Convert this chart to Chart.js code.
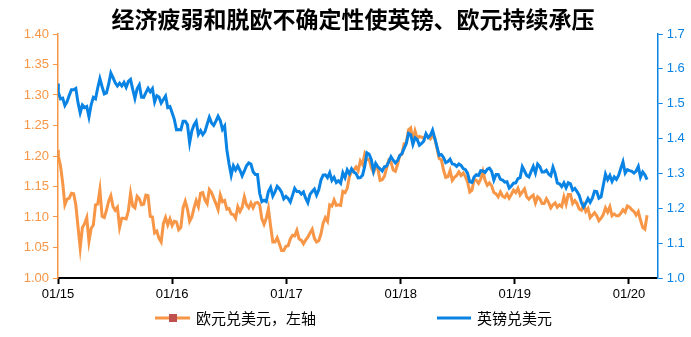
<!DOCTYPE html>
<html>
<head>
<meta charset="utf-8">
<script src="https://cdn.jsdelivr.net/npm/chart.js@4.4.0/dist/chart.umd.min.js"></script>
<style>
  html, body { margin: 0; padding: 0; background: #fff; }
  #wrap { width: 691px; height: 337px; }
</style>
</head>
<body>
<div id="wrap"><canvas id="fx" width="691" height="337"></canvas></div>
<script>
const chartTitle = '经济疲弱和脱欧不确定性使英镑、欧元持续承压';
const seriesNames = ['欧元兑美元，左轴', '英镑兑美元'];

// x axis: days since 2015-01-01, one label per new year
const yearLabels = ['01/15', '01/16', '01/17', '01/18', '01/19', '01/20'];
const yearDays = [0, 365, 731, 1096, 1461, 1826];
const leftTicks = [1.00, 1.05, 1.10, 1.15, 1.20, 1.25, 1.30, 1.35, 1.40];
const rightTicks = [1.0, 1.1, 1.2, 1.3, 1.4, 1.5, 1.6, 1.7];

// first value is 2015-01-01, then weekly Friday closes from 2015-01-02
const eurusd = [
  1.210,
  // 2015
  1.200, 1.184, 1.156, 1.120, 1.129, 1.131, 1.139, 1.138, 1.120, 1.084,
  1.049, 1.083, 1.089, 1.099, 1.060, 1.081, 1.087, 1.120, 1.121, 1.145,
  1.101, 1.099, 1.111, 1.126, 1.135, 1.117, 1.111, 1.116, 1.083, 1.098,
  1.098, 1.097, 1.110, 1.139, 1.118, 1.115, 1.134, 1.130, 1.120, 1.121,
  1.136, 1.135, 1.101, 1.100, 1.074, 1.077, 1.065, 1.059, 1.089, 1.099,
  1.087, 1.097,
  // 2016
  1.086, 1.093, 1.092, 1.079, 1.083, 1.115, 1.126, 1.113, 1.093, 1.100,
  1.115, 1.127, 1.117, 1.139, 1.140, 1.128, 1.122, 1.145, 1.140, 1.131,
  1.122, 1.112, 1.136, 1.125, 1.127, 1.113, 1.114, 1.105, 1.104, 1.098,
  1.117, 1.109, 1.116, 1.133, 1.120, 1.115, 1.123, 1.115, 1.123, 1.124,
  1.120, 1.097, 1.088, 1.098, 1.114, 1.085, 1.059, 1.059, 1.066, 1.056,
  1.045, 1.045, 1.052,
  // 2017
  1.053, 1.064, 1.070, 1.069, 1.078, 1.064, 1.062, 1.056, 1.062, 1.067,
  1.074, 1.080, 1.065, 1.059, 1.061, 1.072, 1.090, 1.099, 1.093, 1.120,
  1.118, 1.128, 1.119, 1.120, 1.119, 1.142, 1.140, 1.147, 1.166, 1.175,
  1.177, 1.182, 1.176, 1.192, 1.186, 1.203, 1.194, 1.195, 1.181, 1.173,
  1.182, 1.179, 1.160, 1.161, 1.167, 1.180, 1.193, 1.190, 1.177, 1.175,
  1.186, 1.201,
  // 2018
  1.203, 1.220, 1.222, 1.243, 1.246, 1.225, 1.241, 1.229, 1.232, 1.231,
  1.229, 1.235, 1.232, 1.228, 1.233, 1.229, 1.213, 1.196, 1.194, 1.177,
  1.165, 1.166, 1.176, 1.160, 1.165, 1.168, 1.174, 1.168, 1.172, 1.166,
  1.157, 1.141, 1.144, 1.162, 1.160, 1.155, 1.162, 1.175, 1.160, 1.152,
  1.156, 1.151, 1.140, 1.138, 1.133, 1.141, 1.134, 1.132, 1.138, 1.131,
  1.137, 1.144,
  // 2019
  1.140, 1.147, 1.136, 1.141, 1.146, 1.133, 1.129, 1.133, 1.136, 1.123,
  1.133, 1.130, 1.122, 1.122, 1.130, 1.124, 1.115, 1.120, 1.123, 1.116,
  1.120, 1.117, 1.133, 1.121, 1.137, 1.137, 1.122, 1.127, 1.122, 1.113,
  1.111, 1.120, 1.109, 1.114, 1.099, 1.103, 1.107, 1.102, 1.094, 1.098,
  1.104, 1.115, 1.108, 1.117, 1.102, 1.105, 1.102, 1.102, 1.106, 1.112,
  1.108, 1.118,
  // 2020
  1.116, 1.112, 1.109, 1.103, 1.109, 1.095, 1.083, 1.080, 1.103
];

const gbpusd = [
  1.558,
  // 2015
  1.533, 1.514, 1.516, 1.495, 1.506, 1.524, 1.540, 1.540, 1.544, 1.503,
  1.474, 1.496, 1.489, 1.492, 1.462, 1.497, 1.518, 1.514, 1.545, 1.572,
  1.549, 1.528, 1.531, 1.556, 1.588, 1.575, 1.560, 1.551, 1.559, 1.551,
  1.561, 1.547, 1.564, 1.570, 1.541, 1.515, 1.543, 1.554, 1.519, 1.518,
  1.532, 1.544, 1.534, 1.543, 1.505, 1.523, 1.519, 1.502, 1.512, 1.522,
  1.489, 1.492,
  // 2016
  1.474, 1.455, 1.425, 1.426, 1.425, 1.450, 1.450, 1.440, 1.388, 1.422,
  1.439, 1.449, 1.412, 1.423, 1.411, 1.420, 1.441, 1.461, 1.445, 1.438,
  1.450, 1.464, 1.452, 1.426, 1.436, 1.368, 1.328, 1.295, 1.322, 1.310,
  1.322, 1.309, 1.293, 1.307, 1.322, 1.330, 1.327, 1.305, 1.297, 1.297,
  1.243, 1.219, 1.223, 1.219, 1.248, 1.260, 1.235, 1.247, 1.263, 1.256,
  1.246, 1.227, 1.234,
  // 2017
  1.228, 1.218, 1.237, 1.257, 1.248, 1.248, 1.241, 1.247, 1.229, 1.216,
  1.240, 1.248, 1.255, 1.238, 1.253, 1.281, 1.295, 1.296, 1.288, 1.302,
  1.280, 1.289, 1.274, 1.279, 1.272, 1.302, 1.288, 1.310, 1.299, 1.313,
  1.304, 1.300, 1.287, 1.288, 1.295, 1.320, 1.359, 1.355, 1.340, 1.307,
  1.329, 1.319, 1.313, 1.307, 1.319, 1.321, 1.334, 1.348, 1.338, 1.330,
  1.337, 1.351,
  // 2018
  1.357, 1.372, 1.386, 1.415, 1.411, 1.383, 1.402, 1.397, 1.381, 1.386,
  1.393, 1.414, 1.403, 1.409, 1.424, 1.401, 1.377, 1.352, 1.354, 1.346,
  1.331, 1.334, 1.341, 1.327, 1.326, 1.320, 1.327, 1.323, 1.314, 1.311,
  1.300, 1.276, 1.274, 1.290, 1.296, 1.294, 1.308, 1.307, 1.303, 1.312,
  1.315, 1.306, 1.281, 1.297, 1.297, 1.283, 1.281, 1.275, 1.276, 1.258,
  1.264, 1.272,
  // 2019
  1.273, 1.285, 1.288, 1.319, 1.307, 1.294, 1.290, 1.305, 1.320, 1.301,
  1.327, 1.320, 1.304, 1.304, 1.309, 1.298, 1.293, 1.318, 1.300, 1.272,
  1.270, 1.262, 1.273, 1.259, 1.273, 1.270, 1.252, 1.257, 1.248, 1.237,
  1.216, 1.204, 1.215, 1.228, 1.217, 1.229, 1.249, 1.248, 1.229, 1.233,
  1.266, 1.298, 1.282, 1.294, 1.277, 1.290, 1.283, 1.294, 1.314, 1.333,
  1.301, 1.311,
  // 2020
  1.308, 1.306, 1.301, 1.307, 1.320, 1.289, 1.304, 1.296, 1.282
];

const ORANGE = '#F79646';
const BLUE = '#0A84E4';
const MARKER = '#C0504D';
const FONT = '"Liberation Sans", Arial, sans-serif';
const CJK = '"Noto Sans CJK SC", sans-serif';

// day offset of each sample
const dayOf = i => (i === 0 ? 0 : 1 + 7 * (i - 1));
const toPoints = arr => arr.map((v, i) => ({ x: dayOf(i), y: v }));

const titleAndLegend = {
  id: 'titleAndLegend',
  afterDraw(chart) {
    const c = chart.ctx;
    c.save();
    c.fillStyle = '#000';
    c.font = 'bold 23px ' + CJK;
    c.textAlign = 'center';
    c.textBaseline = 'middle';
    c.fillText(chartTitle, 353, 19);

    const ly = 318;
    c.font = '15px ' + CJK;
    c.textAlign = 'left';
    c.lineWidth = 3;
    // euro entry: line with square marker
    c.strokeStyle = ORANGE;
    c.beginPath(); c.moveTo(155, ly); c.lineTo(190, ly); c.stroke();
    c.fillStyle = MARKER;
    c.fillRect(169, ly - 4, 8, 8);
    c.fillStyle = '#000';
    c.fillText(seriesNames[0], 196, ly);
    // pound entry
    c.strokeStyle = BLUE;
    c.beginPath(); c.moveTo(437, ly); c.lineTo(471, ly); c.stroke();
    c.fillText(seriesNames[1], 477, ly);
    c.restore();
  }
};

new Chart(document.getElementById('fx'), {
  type: 'line',
  data: {
    datasets: [
      {
        label: seriesNames[1],
        data: toPoints(gbpusd),
        yAxisID: 'y2',
        borderColor: BLUE,
        borderWidth: 3,
        pointRadius: 0,
        order: 0
      },
      {
        label: seriesNames[0],
        data: toPoints(eurusd),
        yAxisID: 'y',
        borderColor: ORANGE,
        borderWidth: 3,
        pointRadius: 0,
        order: 1
      }
    ]
  },
  options: {
    responsive: false,
    animation: false,
    devicePixelRatio: 1,
    layout: { padding: { top: 34, left: 0, right: 0, bottom: 0 } },
    plugins: {
      legend: { display: false },
      title: { display: false },
      tooltip: { enabled: false }
    },
    scales: {
      x: {
        type: 'linear',
        min: 0,
        max: 1918,
        afterBuildTicks: s => { s.ticks = yearDays.map(v => ({ value: v })); },
        afterFit: s => { s.height = 59; },
        ticks: {
          autoSkip: false,
          maxRotation: 0,
          color: '#000',
          font: { family: FONT, size: 13 },
          padding: 3,
          callback: v => yearLabels[yearDays.indexOf(v)]
        },
        grid: { drawOnChartArea: false, tickLength: 6, tickWidth: 2, tickColor: '#000' },
        border: { color: '#000', width: 2 }
      },
      y: {
        position: 'left',
        min: 1.0,
        max: 1.4,
        afterBuildTicks: s => { s.ticks = leftTicks.map(v => ({ value: v })); },
        afterFit: s => { s.width = 58; },
        ticks: {
          color: ORANGE,
          font: { family: FONT, size: 13 },
          padding: 4,
          callback: v => v.toFixed(2)
        },
        grid: { drawOnChartArea: false, tickLength: 5, tickColor: ORANGE },
        border: { color: ORANGE, width: 1.5 }
      },
      y2: {
        position: 'right',
        min: 1.0,
        max: 1.7,
        afterBuildTicks: s => { s.ticks = rightTicks.map(v => ({ value: v })); },
        afterFit: s => { s.width = 33.3; },
        ticks: {
          color: BLUE,
          font: { family: FONT, size: 13 },
          padding: 4,
          callback: v => v.toFixed(1)
        },
        grid: { drawOnChartArea: false, tickLength: 5, tickColor: BLUE },
        border: { color: BLUE, width: 1.5 }
      }
    }
  },
  plugins: [titleAndLegend]
});
</script>
</body>
</html>
